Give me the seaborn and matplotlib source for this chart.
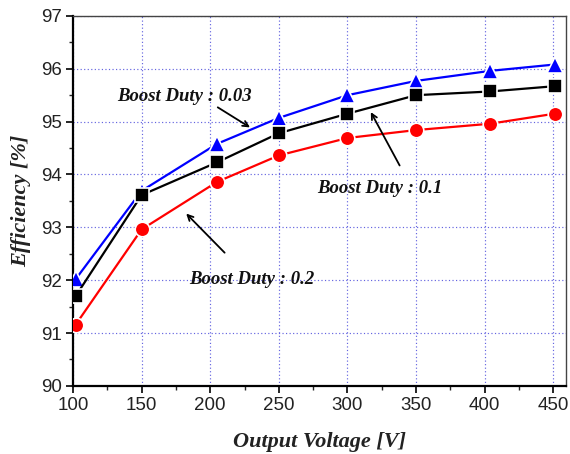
import matplotlib
matplotlib.use("Agg")
import matplotlib.pyplot as plt
import seaborn as sns
import pandas as pd
from matplotlib.ticker import MultipleLocator

# Data
voltage = [102, 150, 205, 250, 300, 350, 404, 451]
duty_003 = [92.02, 93.69, 94.58, 95.07, 95.50, 95.77, 95.96, 96.08]
duty_01 = [91.70, 93.61, 94.23, 94.78, 95.15, 95.50, 95.57, 95.67]
duty_02 = [91.16, 92.96, 93.86, 94.36, 94.69, 94.84, 94.96, 95.15]
series_names = ["Boost Duty : 0.03", "Boost Duty : 0.1", "Boost Duty : 0.2"]

df = pd.concat([
    pd.DataFrame({"V": voltage, "Eff": duty_003, "s": series_names[0]}),
    pd.DataFrame({"V": voltage, "Eff": duty_01, "s": series_names[1]}),
    pd.DataFrame({"V": voltage, "Eff": duty_02, "s": series_names[2]}),
])

sns.set_style("white")
plt.rcParams["font.family"] = ["Liberation Sans", "DejaVu Sans"]

fig = plt.figure(figsize=(5.7, 4.54), dpi=100)
ax = fig.add_axes([0.128, 0.150, 0.8645, 0.815])

palette = {series_names[0]: "#0000ff", series_names[1]: "#000000", series_names[2]: "#ff0000"}
markers = {series_names[0]: "^", series_names[1]: "s", series_names[2]: "o"}
sizes = {series_names[0]: 12, series_names[1]: 9.5, series_names[2]: 10.5}

for name in series_names:
    sub = df[df["s"] == name]
    sns.lineplot(data=sub, x="V", y="Eff", color=palette[name], marker=markers[name],
                 markersize=sizes[name], markeredgecolor="white", markeredgewidth=1.2,
                 linewidth=1.6, ax=ax, legend=False, zorder=3)

ax.set_xlim(100, 459)
ax.set_ylim(90, 97)
ax.xaxis.set_major_locator(MultipleLocator(50))
ax.xaxis.set_minor_locator(MultipleLocator(25))
ax.yaxis.set_major_locator(MultipleLocator(1))
ax.yaxis.set_minor_locator(MultipleLocator(0.5))
ax.tick_params(axis="both", which="major", direction="out", length=5, width=1.2,
               labelsize=13.5, colors="black", bottom=True, left=True, pad=3)
ax.tick_params(axis="both", which="minor", direction="out", length=3, width=1.0,
               bottom=True, left=True)
for lbl in ax.get_xticklabels() + ax.get_yticklabels():
    lbl.set_color("#222222")
ax.grid(True, which="major", color="#6464e0", linestyle=(0, (1.0, 2.0)), linewidth=0.85, zorder=1)
ax.set_axisbelow(True)
for sp in ["left", "bottom"]:
    ax.spines[sp].set_color("black")
    ax.spines[sp].set_linewidth(1.6)
for sp in ["top", "right"]:
    ax.spines[sp].set_color("#444444")
    ax.spines[sp].set_linewidth(1.0)

lab_font = dict(family=["Liberation Serif", "DejaVu Serif"], weight="bold", style="italic", size=16)
ax.set_xlabel("Output Voltage [V]", fontdict=lab_font, labelpad=13, color="#222222")
ax.set_ylabel("Efficiency [%]", fontdict=lab_font, labelpad=7, color="#222222")

ann_font = dict(family=["Liberation Serif", "DejaVu Serif"], weight="bold", style="italic", size=13.5)
arrow = dict(arrowstyle="->", color="black", lw=1.3, shrinkA=0, shrinkB=0)
ax.text(132.5, 95.48, series_names[0], fontdict=ann_font, va="center", ha="left", color="#111111")
ax.annotate("", xy=(229, 94.89), xytext=(205.5, 95.27), arrowprops=arrow)
ax.text(278, 93.73, series_names[1], fontdict=ann_font, va="center", ha="left", color="#111111")
ax.annotate("", xy=(317, 95.18), xytext=(338, 94.17), arrowprops=arrow)
ax.text(185, 92.02, series_names[2], fontdict=ann_font, va="center", ha="left", color="#111111")
ax.annotate("", xy=(182.5, 93.26), xytext=(210.5, 92.52), arrowprops=arrow)

fig.savefig("out.png", dpi=100)
